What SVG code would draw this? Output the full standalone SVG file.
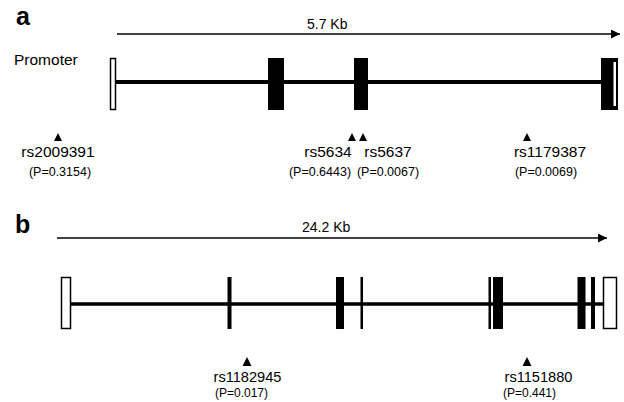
<svg xmlns="http://www.w3.org/2000/svg" width="624" height="402" viewBox="0 0 624 402">
<defs>
<style>
text{font-family:"Liberation Sans",Arial,sans-serif;fill:#000}
.panel{font-weight:bold;font-size:25px}
.scale{font-size:14px}
.rs{font-size:15.5px;text-anchor:middle}
.rsb{font-size:14.6px;text-anchor:middle}
.p{font-size:12.5px;text-anchor:middle}
.pb{font-size:12px;text-anchor:middle}
.ruler{stroke:#000;stroke-width:1.3;fill:none}
.gene{stroke:#000;stroke-width:4;fill:none}
.geneb{stroke:#000;stroke-width:3.5;fill:none}
.exon{fill:#000}
.utr{fill:#fff;stroke:#000;stroke-width:1.5}
.tri{fill:#000}
</style>
<marker id="ah" viewBox="0 0 10 10" refX="10" refY="5" markerWidth="10" markerHeight="9" markerUnits="userSpaceOnUse" orient="auto">
<path d="M0,0 L10,5 L0,10 Z" fill="#000"/>
</marker>
</defs>

<g id="panel-a">
<text class="panel" x="16" y="25">a</text>
<g id="ruler-a">
<line class="ruler" x1="117" y1="34" x2="620" y2="34" marker-end="url(#ah)"/>
<text class="scale" x="307" y="29">5.7 Kb</text>
</g>
<text id="promoter" x="14" y="65" font-size="15.5">Promoter</text>
<g id="gene-a">
<line class="gene" x1="115" y1="82" x2="602" y2="82"/>
<rect id="a-utr5" class="utr" x="110.5" y="58.5" width="5" height="51"/>
<rect id="a-exon1" class="exon" x="268" y="58" width="16" height="52"/>
<rect id="a-exon2" class="exon" x="354" y="58" width="14" height="52"/>
<g id="a-exon-last">
<rect class="exon" x="601" y="58" width="17" height="52"/>
<rect fill="#fff" x="613.5" y="62" width="2.5" height="44"/>
</g>
</g>
<g id="snp-rs2009391">
<path class="tri" d="M58,133 L62,141 L54,141 Z"/>
<text class="rs" x="58" y="157">rs2009391</text>
<text class="p" x="60" y="176">(P=0.3154)</text>
</g>
<g id="snp-rs5634">
<path class="tri" d="M352,133 L356,141 L348,141 Z"/>
<text class="rs" x="328" y="157">rs5634</text>
<text class="p" x="320" y="176">(P=0.6443)</text>
</g>
<g id="snp-rs5637">
<path class="tri" d="M363,133 L367,141 L359,141 Z"/>
<text class="rs" x="388" y="157">rs5637</text>
<text class="p" x="388" y="176">(P=0.0067)</text>
</g>
<g id="snp-rs1179387">
<path class="tri" d="M527,133 L531,141 L523,141 Z"/>
<text class="rs" x="550" y="157">rs1179387</text>
<text class="p" x="546" y="176">(P=0.0069)</text>
</g>
</g>

<g id="panel-b">
<text class="panel" x="15" y="233">b</text>
<g id="ruler-b">
<line class="ruler" x1="57" y1="238" x2="607" y2="238" marker-end="url(#ah)"/>
<text class="scale" x="302" y="232">24.2 Kb</text>
</g>
<g id="gene-b">
<line class="geneb" x1="70" y1="304" x2="604" y2="304"/>
<rect id="b-utr5" class="utr" x="61.5" y="277.5" width="9" height="51"/>
<rect id="b-exon1" class="exon" x="227.5" y="277" width="4" height="52"/>
<rect id="b-exon2" class="exon" x="336" y="277" width="8" height="52"/>
<rect id="b-exon3" class="exon" x="360.5" y="277" width="2.5" height="52"/>
<rect id="b-exon4" class="exon" x="488.5" y="277" width="2.5" height="52"/>
<rect id="b-exon5" class="exon" x="493" y="277" width="10" height="52"/>
<rect id="b-exon6" class="exon" x="577.5" y="277" width="8" height="52"/>
<rect id="b-exon7" class="exon" x="591" y="277" width="4" height="52"/>
<rect id="b-utr3" class="utr" x="603.5" y="277.5" width="13" height="51"/>
</g>
<g id="snp-rs1182945">
<path class="tri" d="M247,357 L251.5,366 L242.5,366 Z"/>
<text class="rsb" x="247.5" y="382">rs1182945</text>
<text class="pb" x="241.5" y="397">(P=0.017)</text>
</g>
<g id="snp-rs1151880">
<path class="tri" d="M527,357 L531.5,366 L522.5,366 Z"/>
<text class="rsb" x="538.5" y="382">rs1151880</text>
<text class="pb" x="529.5" y="397">(P=0.441)</text>
</g>
</g>
</svg>
